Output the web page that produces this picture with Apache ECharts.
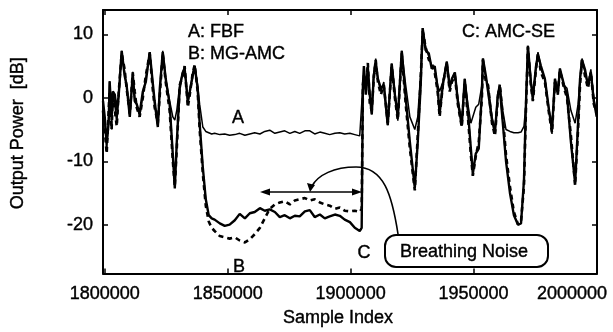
<!DOCTYPE html>
<html>
<head>
<meta charset="utf-8">
<script src="https://cdn.jsdelivr.net/npm/echarts@6/dist/echarts.min.js"></script>
<style>
  html, body { margin: 0; padding: 0; background: #fff; }
  #main { width: 613px; height: 332px; }
</style>
</head>
<body>
<div id="main"></div>
<script>
// sample positions (shared by the three traces)
const sampleIndex = [
  1799300, 1800000, 1800800, 1801600, 1802000, 1802800, 1803300, 1804100, 1804900, 1805700,
  1806900, 1808100, 1808900, 1810200, 1811400, 1812200, 1813000, 1814200, 1815500, 1816700,
  1818300, 1819500, 1820300, 1821600, 1822400, 1823600, 1824800, 1826400, 1827700, 1828500,
  1829300, 1830500, 1831700, 1832500, 1833800, 1834600, 1835800, 1836600, 1837800, 1838600,
  1839900, 1841100, 1842300, 1843500,
  1844700, 1846800, 1848800, 1850800, 1852900, 1854900, 1857000, 1859000, 1861000, 1863100,
  1865100, 1867100, 1869200, 1871200, 1873200, 1875300, 1877300, 1879300, 1881400, 1883400,
  1885400, 1887500, 1889500, 1891500, 1893600, 1895600, 1897600, 1899700, 1901700, 1903700,
  1904500,
  1905000, 1905400, 1906200, 1907000, 1907800, 1908600, 1909400, 1910200, 1911100, 1912300,
  1913500, 1915100, 1916700, 1918000, 1919200, 1920800, 1922400, 1924100, 1926100, 1927300,
  1928500, 1929300, 1930500, 1931800, 1933000, 1934200, 1935400, 1936200, 1937500, 1939100,
  1940300, 1941200, 1942400, 1943600, 1945200, 1946400, 1947700, 1948900, 1949700, 1950900,
  1952100, 1953400, 1953800, 1955000, 1955900, 1957500, 1958700, 1959900, 1960700, 1961900,
  1963200, 1964800, 1966400, 1968100, 1969300, 1970500, 1971300, 1972100, 1973300, 1974100,
  1975400, 1976200, 1977400, 1979000, 1980700, 1981900, 1983100, 1984300, 1985100, 1986800,
  1988000, 1989600, 1991300, 1992500, 1993300, 1994100, 1995300, 1996500, 1997700, 1998900,
  2000100
]

// A: FBF  [dB]
const fbf = [
  -1, -4, -8.5, -3, 2.6, -5, 1, -1, -4, 0,
  7.4, 4, 2, -3, 4.1, 0, -1, -3, 0.5, 3,
  7.2, 2, -1, -4.6, 1, 7.4, 3, -0.5, -3, -3.5,
  -2, 2, 4, 5, -1, 1, 4, 5, 2, -1,
  -4.6, -5.3, -5.5, -5.7,
  -5.6, -5.8, -5.7, -5.9, -5.8, -5.6, -5.9, -5.7, -5.5, -5.7,
  -5.3, -5.1, -5.6, -5.4, -5.2, -5.6, -5.3, -5.6, -5.2, -5.2,
  -5.7, -5.4, -5.6, -5.8, -5.6, -5.5, -5.7, -5.6, -5.8, -6,
  -5.8,
  2, 4, 2, 5, 0, -2.6, 4, 6.2, 3, 1,
  2.5, -4.3, 5.4, 1, -3.6, 7.4, 2, -3, -5, -3,
  4, 11, 8, 6.5, 5, 4.6, 2, 1, 2.5, 5.7,
  2, 3, 4, 0, -4, 3, -1, -4, -4.2, -1.5,
  -1, 2, 6.2, 3, 2, -3, -5, 1, 2, -2,
  -5, -5.3, -5.5, -5.5, -5.4, -4.5, -1, 8.2, 3, -0.5,
  5, 7.2, 4.5, 3, -2, -5.7, 3, 1, 4.6, 2,
  1.5, -2, -4, -1, 3, 6.2, 4, 2, 4.5, 0,
  -3
]

// B: MG-AMC  [dB]
const mgAmc = [
  -2, -5, -8.8, -2, 1, -5, 0, -2, -4.5, 1,
  7, 4.5, 1.5, -2.5, 4, 1, -1.5, -3, 0, 3.5,
  7, 1.5, -1.5, -4, 0.5, 7, 2.5, -2, -10, -14,
  -8, 2, 3.5, 5, -1.5, 0.5, 4, 5.2, 1, -5,
  -12, -17, -19.5, -20.5,
  -21, -21.8, -22, -22.2, -22, -22.5, -22.8, -22.3, -21.5, -20.5,
  -19, -17.5, -16.8, -16.5, -16.3, -16.8, -16.2, -16, -15.8, -16.2,
  -16, -16.5, -16.8, -17, -17.5, -17.3, -17.8, -17.9, -17.8, -18,
  -17.5,
  2, 3.5, 1, 5.5, -1, -2, 3, 6, 2.5, 0.5,
  2, -4, 5, 0, -3.5, 7, -1, -8, -14.6, -6,
  3, 10.5, 8, 6, 5.5, 4, 1, -3, 2, 5.5,
  1, 2.5, 3.5, -1, -4.6, 2.5, -3, -9, -12.3, -9.2,
  -7, 0, 6, 2.5, 2, -4, -6, 0, 2.2, -3,
  -9, -14, -18, -20, -19.5, -14, -2, 8, 2, -0.5,
  4.5, 7, 4, 2.5, -2.5, -5.5, 2.5, 1, 4.3, 1.5,
  0, -6, -13.8, -5, 2, 6, 3.5, 1.5, 4, -1,
  -2.5
]

// C: AMC-SE  [dB]
const amcSe = [
  -0.5, -3, -7, -4, 2.6, -3, 1, 0.5, -2, 0.5,
  7.4, 3.5, 2, -3, 3.8, -0.5, -1, -2.5, 1, 2.5,
  7.2, 2.5, -0.5, -4.6, 1.5, 7.2, 3, -1, -9, -14.3,
  -7, 1.5, 4, 4.6, -0.5, 1, 3.5, 5, 1.5, -4,
  -11, -16, -18.5, -19,
  -19.2, -19.8, -20.2, -20, -19.3, -18.3, -19, -18.2, -18, -17.4,
  -17.8, -17.6, -18, -18.8, -18.5, -19, -18.6, -18.7, -17.9, -17.7,
  -18.8, -18.4, -19, -18.7, -18.4, -18.6, -19.2, -19.6, -20.5, -21,
  -20.5,
  2, 5, 0.5, 4.8, 0.5, -2.6, 3.5, 5.5, 3, 1.5,
  2, -4.3, 5.4, 0.5, -3, 7.4, 0, -7, -14.2, -7,
  2, 11, 7.5, 7, 4.6, 5, 1.5, -2.5, 2, 5.7,
  1.5, 3, 4, -0.5, -4.4, 3, -2, -8, -12, -8.8,
  -8, 1, 6.2, 3.5, 1, -3.5, -5.5, 0.5, 1.5, -4,
  -10, -15, -18.5, -20, -19.8, -13, -1, 8.2, 2.5, 0,
  5, 6.8, 5, 3, -2, -5, 3, 0.5, 4.6, 2,
  0.5, -7, -13.5, -4, 3, 6, 4.5, 2, 4, -0.5,
  -3
]

const xTicks = [1800000, 1850000, 1900000, 1950000, 2000000]
const yTicks = [-20, -10, 0, 10]

const FONT = '"Liberation Sans", Arial, Helvetica, sans-serif'
const INK = '#000'
// scanned print looks a little heavier than plain regular text
const HEAVY = { textBorderColor: INK, textBorderWidth: 0.4 }

const pairs = (ys) => sampleIndex.map((x, i) => [x, ys[i]])

const frameX = (pos, withLabels) => ({
  type: 'value',
  position: pos,
  min: 1799300,
  max: 2000200,
  splitLine: { show: false },
  axisLine: { show: true, onZero: false, lineStyle: { color: INK, width: 2 } },
  axisTick: { show: true, inside: true, length: 5, customValues: xTicks, lineStyle: { color: INK, width: 1.5 } },
  axisLabel: Object.assign({
    show: withLabels,
    customValues: xTicks,
    margin: 12,
    color: INK,
    fontSize: 18,
    fontFamily: FONT,
    formatter: (v) => (v === 2000000 ? '{last|' + v + '}' : String(v)),
    rich: { last: Object.assign({ fontSize: 18, fontFamily: FONT, color: INK, padding: [0, 49, 0, 0] }, HEAVY) }
  }, HEAVY)
})

const frameY = (pos, withLabels) => ({
  type: 'value',
  position: pos,
  min: -27.7,
  max: 13.85,
  splitLine: { show: false },
  axisLine: { show: true, onZero: false, lineStyle: { color: INK, width: 2 } },
  axisTick: { show: true, inside: true, length: 5, customValues: yTicks, lineStyle: { color: INK, width: 1.5 } },
  axisLabel: Object.assign({ show: withLabels, customValues: yTicks, margin: 10, color: INK, fontSize: 18, fontFamily: FONT }, HEAVY)
})

const xMain = frameX('bottom', true)
xMain.name = 'Sample Index'
xMain.nameLocation = 'middle'
xMain.nameGap = 34
xMain.nameTextStyle = Object.assign({ color: INK, fontSize: 18, fontFamily: FONT, padding: [0, 24, 0, 0] }, HEAVY)

const yMain = frameY('left', true)
yMain.name = 'Output Power  [dB]'
yMain.nameLocation = 'middle'
yMain.nameRotate = 90
yMain.nameGap = 76
yMain.nameTextStyle = Object.assign({ color: INK, fontSize: 18, fontFamily: FONT, padding: [0, 0, 0, 17] }, HEAVY)

const txt = (text, x, y, align) => ({
  type: 'text',
  x: x,
  y: y,
  z: 100,
  style: {
    text: text, fill: INK, fontSize: 18, fontFamily: FONT,
    align: align || 'left', verticalAlign: 'middle',
    stroke: INK, lineWidth: 0.4
  }
})

const chart = echarts.init(document.getElementById('main'))
chart.setOption({
  animation: false,
  grid: { left: 103, right: 16, top: 10, bottom: 52 },
  xAxis: [xMain, frameX('top', false)],
  yAxis: [yMain, frameY('right', false)],
  series: [
    {
      name: 'A: FBF', type: 'line', data: pairs(fbf), showSymbol: false,
      lineStyle: { color: INK, width: 1.5 }
    },
    {
      name: 'B: MG-AMC', type: 'line', data: pairs(mgAmc), showSymbol: false,
      lineStyle: { color: INK, width: 2.6, type: [5, 4] }
    },
    {
      name: 'C: AMC-SE', type: 'line', data: pairs(amcSe), showSymbol: false,
      lineStyle: { color: INK, width: 2.4 }
    }
  ],
  graphic: {
    elements: [
      txt('A: FBF', 188, 32),
      txt('B: MG-AMC', 188, 54),
      txt('C: AMC-SE', 462, 32),
      txt('A', 238, 118, 'center'),
      txt('B', 239, 267, 'center'),
      txt('C', 364, 253, 'center'),
      // breathing noise box
      {
        type: 'rect', z: 90,
        shape: { x: 385, y: 235, width: 163, height: 32, r: 11 },
        style: { fill: '#fff', stroke: INK, lineWidth: 2 }
      },
      txt('Breathing Noise', 464, 252, 'center'),
      // double-headed arrow over the noise segment
      {
        type: 'line', z: 90,
        shape: { x1: 266, y1: 192, x2: 356, y2: 192 },
        style: { stroke: INK, lineWidth: 1.5 }
      },
      {
        type: 'polygon', z: 90,
        shape: { points: [[260, 192], [270, 188.5], [270, 195.5]] },
        style: { fill: INK }
      },
      {
        type: 'polygon', z: 90,
        shape: { points: [[362, 192], [352, 188.5], [352, 195.5]] },
        style: { fill: INK }
      },
      // curved pointer from the box to the arrow
      {
        type: 'bezierCurve', z: 90,
        shape: { x1: 398, y1: 234, cpx1: 392, cpy1: 195, cpx2: 384, cpy2: 167, x2: 356, y2: 167 },
        style: { stroke: INK, lineWidth: 1.6, fill: null }
      },
      {
        type: 'bezierCurve', z: 90,
        shape: { x1: 356, y1: 167, cpx1: 334, cpy1: 167, cpx2: 318, cpy2: 175, x2: 312, y2: 186 },
        style: { stroke: INK, lineWidth: 1.6, fill: null }
      },
      {
        type: 'polygon', z: 90,
        shape: { points: [[310, 192], [307, 183], [315, 185]] },
        style: { fill: INK }
      }
    ]
  }
})
</script>
</body>
</html>
